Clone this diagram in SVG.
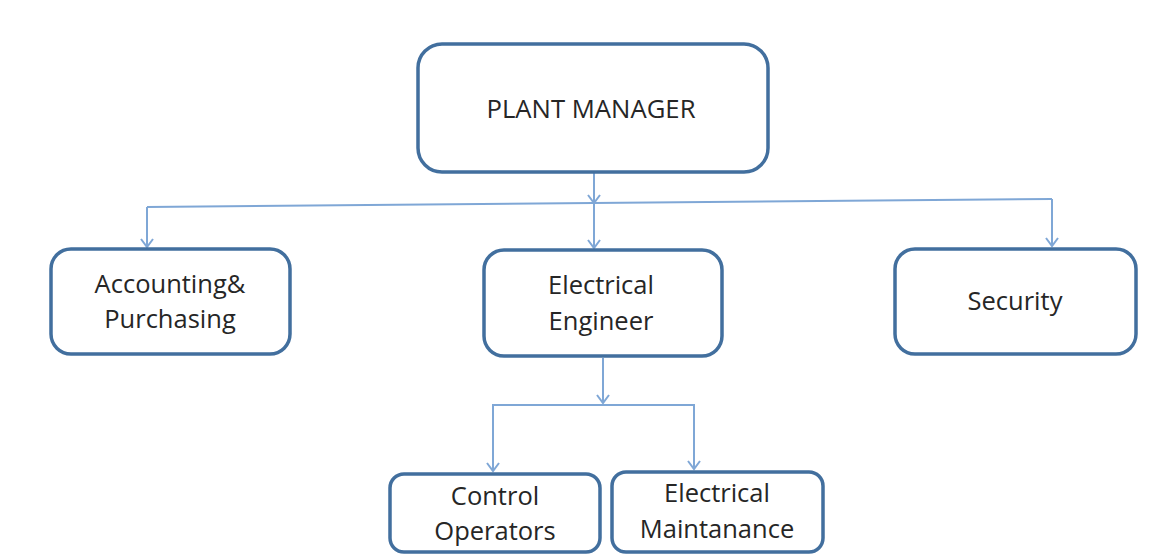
<svg xmlns="http://www.w3.org/2000/svg" width="1166" height="555" viewBox="0 0 1166 555">
<style>
.box{fill:#fff;stroke:#426f9e;stroke-width:3.5}
.lbl{font-family:"Open Sans","Liberation Sans",sans-serif;font-size:25.5px;fill:#262626;text-anchor:middle}
.con{fill:none;stroke:#7fa7d6;stroke-width:2}
</style>
<defs>
<marker id="arr" markerUnits="userSpaceOnUse" markerWidth="20" markerHeight="20" refX="10" refY="10" orient="auto">
<path d="M2,4 L10,10 L2,16" fill="none" stroke="#7fa7d6" stroke-width="2"/>
</marker>
</defs>
<rect width="1166" height="555" fill="#fff"/>
<g id="connectors">
<line class="con" x1="594" y1="173" x2="594" y2="203" marker-end="url(#arr)"/>
<line class="con" x1="147" y1="207" x2="1052" y2="199"/>
<line class="con" x1="147" y1="207" x2="147" y2="247" marker-end="url(#arr)"/>
<line class="con" x1="594" y1="203" x2="594" y2="248" marker-end="url(#arr)"/>
<line class="con" x1="1052" y1="199" x2="1052" y2="246" marker-end="url(#arr)"/>
<line class="con" x1="603" y1="358" x2="603" y2="403" marker-end="url(#arr)"/>
<polyline class="con" points="493,471 493,405 694,405 694,469"/>
<line class="con" x1="493" y1="440" x2="493" y2="471" marker-end="url(#arr)"/>
<line class="con" x1="694" y1="440" x2="694" y2="469" marker-end="url(#arr)"/>
</g>
<g id="plant-manager">
<rect class="box" x="418" y="44" width="350" height="128" rx="24"/>
<text class="lbl" x="591" y="118" textLength="209" lengthAdjust="spacingAndGlyphs">PLANT MANAGER</text>
</g>
<g id="accounting">
<rect class="box" x="51" y="249" width="239" height="105" rx="20"/>
<text class="lbl" x="170" y="293">Accounting&amp;</text>
<text class="lbl" x="170" y="328">Purchasing</text>
</g>
<g id="electrical-engineer">
<rect class="box" x="484" y="250" width="238" height="106" rx="20"/>
<text class="lbl" x="601" y="294">Electrical</text>
<text class="lbl" x="601" y="330">Engineer</text>
</g>
<g id="security">
<rect class="box" x="895" y="249" width="241" height="105" rx="20"/>
<text class="lbl" x="1015" y="310">Security</text>
</g>
<g id="control-operators">
<rect class="box" x="390" y="474" width="210" height="78" rx="14"/>
<text class="lbl" x="495" y="505">Control</text>
<text class="lbl" x="495" y="540">Operators</text>
</g>
<g id="electrical-maintanance">
<rect class="box" x="612" y="472" width="211" height="80" rx="14"/>
<text class="lbl" x="717" y="502">Electrical</text>
<text class="lbl" x="717" y="538">Maintanance</text>
</g>
</svg>
